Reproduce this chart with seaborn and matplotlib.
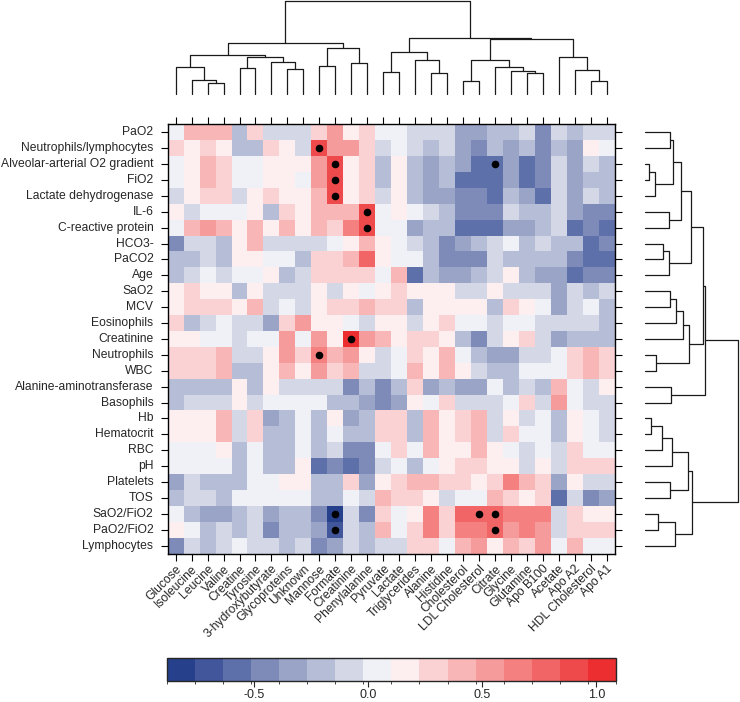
import matplotlib
matplotlib.use("Agg")
import matplotlib.pyplot as plt
import numpy as np
import pandas as pd
import seaborn as sns
from matplotlib.cm import ScalarMappable
from matplotlib.colors import BoundaryNorm, ListedColormap

# clinical variables (rows) and metabolites (columns), in dendrogram order
row_labels = ["PaO2", "Neutrophils/lymphocytes", "Alveolar-arterial O2 gradient", "FiO2",
              "Lactate dehydrogenase", "IL-6", "C-reactive protein", "HCO3-", "PaCO2", "Age",
              "SaO2", "MCV", "Eosinophils", "Creatinine", "Neutrophils", "WBC",
              "Alanine-aminotransferase", "Basophils", "Hb", "Hematocrit", "RBC", "pH",
              "Platelets", "TOS", "SaO2/FiO2", "PaO2/FiO2", "Lymphocytes"]
col_labels = ["Glucose", "Isoleucine", "Leucine", "Valine", "Creatine", "Tyrosine",
              "3-hydroxybutyrate", "Glycoproteins", "Unknown", "Mannose", "Formate",
              "Creatinine", "Phenylalanine", "Pyruvate", "Lactate", "Triglycerides",
              "Alanine", "Histidine", "Cholesterol", "LDL Cholesterol", "Citrate", "Glycine",
              "Glutamine", "Apo B100", "Acetate", "Apo A2", "HDL Cholesterol", "Apo A1"]

# correlation estimates
corr = [
    [0.04, 0.41, 0.41, 0.41, -0.21, 0.29, -0.08, -0.08, -0.08, 0.29, 0.53, 0.16, 0.29, 0.04, 0.04, -0.08, -0.08, -0.08, -0.33, -0.33, -0.21, -0.21, -0.08, -0.45, -0.08, -0.21, -0.08, -0.08],
    [0.29, 0.16, 0.29, 0.16, -0.21, -0.21, 0.29, 0.16, -0.08, 0.90, 0.53, 0.53, 0.29, -0.08, 0.04, -0.08, -0.21, -0.08, -0.33, -0.45, -0.21, -0.33, -0.21, -0.45, -0.21, -0.33, 0.16, 0.04],
    [0.04, 0.16, 0.41, 0.29, 0.04, 0.04, 0.16, 0.16, 0.16, 0.53, 0.90, 0.16, 0.29, -0.21, 0.16, -0.21, -0.33, -0.21, -0.33, -0.58, -0.58, -0.33, -0.58, -0.45, -0.08, -0.33, -0.08, -0.21],
    [0.04, 0.16, 0.41, 0.29, 0.04, 0.04, 0.16, 0.16, 0.04, 0.53, 0.90, 0.16, 0.29, -0.21, 0.16, -0.21, -0.33, -0.21, -0.58, -0.58, -0.58, -0.33, -0.58, -0.45, -0.08, -0.33, -0.21, -0.21],
    [-0.08, 0.16, 0.29, 0.29, -0.08, 0.16, 0.29, 0.16, 0.16, 0.41, 0.90, 0.16, 0.29, -0.08, 0.16, -0.21, -0.33, -0.33, -0.45, -0.45, -0.58, -0.21, -0.33, -0.58, -0.08, -0.33, -0.08, -0.21],
    [0.16, -0.08, 0.04, 0.04, 0.04, 0.16, -0.21, 0.29, 0.16, 0.41, 0.41, 0.41, 0.90, 0.04, 0.16, 0.04, -0.08, -0.21, -0.45, -0.45, -0.45, -0.08, -0.21, -0.21, -0.08, -0.33, -0.45, -0.45],
    [0.04, 0.41, 0.53, 0.41, 0.16, 0.41, 0.16, 0.41, 0.16, 0.41, 0.29, 0.66, 0.90, 0.04, 0.04, -0.33, -0.21, -0.21, -0.58, -0.58, -0.58, -0.33, -0.33, -0.21, -0.08, -0.58, -0.45, -0.58],
    [-0.45, -0.08, -0.08, -0.21, 0.16, 0.41, -0.08, -0.08, -0.08, -0.08, 0.04, 0.16, 0.41, 0.16, 0.04, -0.08, -0.21, -0.45, -0.33, -0.21, -0.08, 0.04, -0.21, -0.08, -0.21, -0.21, -0.58, -0.45],
    [-0.21, -0.21, -0.08, -0.21, 0.16, 0.16, 0.04, 0.04, -0.21, 0.29, 0.29, 0.41, 0.78, 0.16, 0.04, 0.04, -0.21, -0.45, -0.45, -0.45, -0.08, -0.21, -0.21, -0.21, -0.21, -0.45, -0.58, -0.58],
    [-0.21, -0.08, 0.04, -0.08, 0.04, 0.04, 0.16, -0.21, -0.08, 0.29, 0.29, 0.29, 0.29, 0.04, 0.41, -0.58, -0.21, -0.33, -0.33, -0.21, -0.08, 0.16, -0.21, -0.33, -0.33, -0.58, -0.45, -0.45],
    [0.16, 0.29, 0.16, 0.16, -0.21, 0.16, -0.08, -0.08, -0.08, 0.16, -0.08, 0.16, 0.04, 0.16, 0.29, 0.16, 0.16, 0.16, -0.08, -0.08, 0.16, -0.08, -0.08, -0.08, -0.33, -0.08, -0.21, -0.08],
    [0.16, 0.29, 0.29, 0.29, 0.16, 0.41, -0.08, 0.04, -0.08, 0.16, 0.29, 0.29, 0.41, 0.29, 0.29, -0.21, 0.16, 0.16, 0.16, 0.16, -0.21, 0.29, 0.16, 0.04, -0.33, -0.08, 0.04, -0.21],
    [0.29, -0.21, -0.08, 0.04, -0.08, -0.08, -0.33, 0.29, 0.53, 0.16, 0.16, 0.04, -0.08, 0.16, 0.16, -0.08, 0.16, 0.29, 0.04, 0.04, -0.08, 0.04, 0.04, -0.08, -0.08, -0.08, -0.08, -0.21],
    [0.16, 0.16, 0.04, 0.04, -0.08, 0.04, 0.04, 0.53, 0.04, 0.53, 0.16, 1.00, 0.53, 0.41, 0.16, 0.29, 0.29, 0.16, -0.21, -0.45, -0.08, 0.16, 0.29, -0.08, -0.33, -0.21, -0.21, -0.21],
    [0.29, 0.29, 0.29, 0.41, -0.08, -0.08, 0.16, 0.53, 0.29, 0.66, 0.41, 0.53, 0.16, -0.08, 0.04, 0.29, 0.16, 0.41, 0.04, -0.21, -0.33, -0.33, -0.08, -0.08, 0.04, 0.29, 0.41, 0.29],
    [0.29, 0.29, 0.29, 0.41, -0.21, -0.21, 0.16, 0.41, 0.16, 0.53, 0.29, 0.41, -0.08, -0.08, 0.04, 0.41, 0.16, 0.41, 0.16, -0.08, -0.21, -0.21, 0.04, 0.04, 0.04, 0.29, 0.41, 0.29],
    [-0.21, -0.21, -0.21, -0.21, 0.16, -0.21, 0.16, -0.08, -0.08, -0.08, -0.08, -0.45, -0.21, -0.45, -0.21, 0.29, -0.33, -0.21, -0.33, -0.33, 0.04, -0.21, -0.08, -0.21, 0.41, 0.04, -0.08, 0.16],
    [-0.21, -0.08, -0.08, -0.08, 0.16, -0.08, 0.04, 0.04, 0.04, 0.04, -0.21, -0.21, -0.33, -0.45, -0.33, 0.16, 0.04, 0.29, -0.08, -0.08, -0.08, 0.04, 0.29, -0.08, 0.53, 0.04, -0.08, -0.08],
    [0.16, 0.16, 0.16, 0.41, -0.08, 0.29, -0.33, -0.21, 0.04, -0.21, 0.16, -0.33, -0.21, 0.29, 0.29, -0.21, 0.41, 0.16, 0.29, 0.41, -0.08, 0.16, -0.08, 0.04, -0.21, 0.16, 0.04, -0.08],
    [0.16, 0.16, 0.16, 0.41, -0.08, 0.29, -0.21, -0.21, 0.04, -0.21, 0.04, -0.21, -0.21, 0.29, 0.29, -0.21, 0.41, 0.16, 0.29, 0.41, -0.08, 0.29, 0.04, 0.04, -0.21, 0.16, 0.04, -0.08],
    [0.04, 0.04, 0.04, 0.16, -0.21, 0.04, -0.21, -0.21, 0.04, -0.21, -0.08, -0.45, -0.45, 0.04, 0.29, 0.04, 0.41, 0.16, 0.16, 0.41, 0.16, 0.04, -0.08, 0.04, -0.08, 0.29, 0.04, 0.04],
    [0.04, 0.04, 0.04, 0.04, -0.21, 0.04, -0.21, -0.21, 0.16, -0.58, -0.45, -0.58, -0.45, -0.08, 0.04, -0.21, 0.04, 0.16, 0.29, 0.29, 0.16, 0.16, -0.08, 0.16, -0.08, 0.29, 0.29, 0.29],
    [-0.33, -0.08, -0.21, -0.21, -0.21, 0.04, 0.04, 0.16, 0.16, -0.21, -0.21, 0.29, -0.33, 0.16, 0.29, 0.41, 0.41, 0.29, 0.29, 0.16, 0.29, 0.66, 0.41, 0.29, -0.33, 0.16, -0.08, -0.08],
    [-0.21, -0.08, -0.08, -0.21, 0.04, 0.04, 0.04, 0.04, 0.04, -0.21, -0.21, 0.04, -0.08, 0.41, 0.29, 0.29, 0.16, -0.08, 0.04, 0.04, 0.41, 0.29, 0.16, 0.29, -0.58, -0.08, -0.45, -0.33],
    [0.04, -0.21, -0.33, -0.33, -0.21, -0.08, -0.33, -0.21, -0.21, -0.45, -0.82, -0.08, -0.45, 0.29, 0.04, 0.16, 0.66, 0.29, 0.78, 0.78, 0.78, 0.66, 0.66, 0.66, -0.08, 0.29, 0.16, 0.16],
    [0.16, 0.04, -0.21, -0.08, -0.21, -0.08, -0.45, -0.21, -0.21, -0.33, -0.70, -0.08, -0.21, 0.41, 0.04, 0.29, 0.66, 0.29, 0.66, 0.66, 0.78, 0.53, 0.66, 0.53, -0.08, 0.29, 0.29, 0.29],
    [-0.45, -0.08, -0.21, -0.08, 0.04, -0.08, -0.08, -0.21, -0.08, -0.45, -0.33, -0.08, -0.21, -0.08, -0.08, 0.29, 0.29, 0.04, 0.41, 0.53, 0.16, 0.41, 0.29, 0.53, 0.04, 0.41, 0.04, 0.04],
]

# significant cells (row index, column index)
sig_rows = [1, 2, 3, 4, 5, 6, 2, 13, 14, 24, 25, 24, 24, 25]
sig_cols = [9, 10, 10, 10, 12, 12, 20, 11, 9, 10, 10, 19, 20, 20]

# dendrogram merges: (left node, right node, height); nodes >= n are earlier merges
col_merges = [
    (2, 3, 35), (1, 28, 43), (0, 29, 83), (4, 5, 78), (7, 8, 75), (6, 32, 96),
    (31, 33, 113), (30, 34, 118), (9, 10, 85), (11, 12, 93), (36, 37, 140), (35, 38, 155),
    (13, 14, 68), (16, 17, 63), (15, 41, 103), (40, 42, 128), (18, 19, 41), (22, 23, 63),
    (21, 45, 70), (20, 46, 83), (44, 47, 103), (26, 27, 39), (25, 49, 73), (24, 50, 111),
    (48, 51, 165), (43, 52, 168), (39, 53, 280),
]
row_merges = [
    (0, 1, 75), (2, 3, 12), (28, 4, 30), (27, 29, 85), (5, 6, 73), (30, 31, 108),
    (7, 8, 55), (33, 9, 73), (32, 34, 140), (10, 11, 75), (36, 12, 92), (37, 13, 115),
    (14, 15, 32), (38, 39, 132), (35, 40, 175), (16, 17, 78), (41, 42, 180), (18, 19, 18),
    (44, 20, 50), (45, 21, 82), (22, 23, 75), (46, 47, 130), (24, 25, 40), (49, 26, 90),
    (48, 50, 143), (43, 51, 280),
]

palette = ["#27408b", "#41569b", "#5e70a9", "#7e8ab8", "#9aa4c7", "#b6bdd6", "#d4d8e6",
           "#eff1f6", "#fdeef0", "#fbd2d3", "#f8b6b7", "#f69b9b", "#f48080", "#f16566",
           "#ef4a4b", "#ec2e30"]
breaks = np.linspace(-0.884, 1.086, 17)


def draw_dendrogram(ax, merges, n, vertical):
    pos = {i: i + 0.5 for i in range(n)}
    hgt = {i: 0.0 for i in range(n)}
    for k, (a, b, h) in enumerate(merges):
        xs = [pos[a], pos[a], pos[b], pos[b]]
        ys = [hgt[a], h, h, hgt[b]]
        if vertical:
            ax.plot(xs, ys, color="#1a1a1a", lw=0.9, clip_on=False)
        else:
            ax.plot(ys, xs, color="#1a1a1a", lw=0.9, clip_on=False)
        pos[n + k] = (pos[a] + pos[b]) / 2
        hgt[n + k] = h


sns.set_style("ticks")
plt.rcParams["font.family"] = ["Liberation Sans", "DejaVu Sans"]
plt.rcParams["axes.unicode_minus"] = False

cmap = ListedColormap(palette)
norm = BoundaryNorm(breaks, cmap.N)

fig = plt.figure(figsize=(7.4, 7.02), dpi=100)

# heatmap
ax = fig.add_axes([0.2266, 0.2115, 0.604, 0.6114])
df = pd.DataFrame(corr, index=row_labels, columns=col_labels)
sns.heatmap(df, ax=ax, cmap=cmap, norm=norm, cbar=False,
            xticklabels=True, yticklabels=True)
ax.scatter(np.array(sig_cols) + 0.5, np.array(sig_rows) + 0.5, s=20, c="black", zorder=3)
for s in ax.spines.values():
    s.set_visible(True)
    s.set_linewidth(1.0)
    s.set_color("black")
ax.tick_params(axis="both", direction="out", length=4.8, width=0.8, color="black",
               labelsize=8.7, left=True, bottom=True, top=True, right=True,
               labeltop=False, labelright=False)
ax.tick_params(axis="x", pad=2)
ax.tick_params(axis="y", pad=5.5)
plt.setp(ax.get_xticklabels(), rotation=45, ha="right", rotation_mode="anchor")
plt.setp(ax.get_yticklabels(), rotation=0)
ax.set_xlabel("")
ax.set_ylabel("")

# column dendrogram
ax_top = fig.add_axes([0.2266, 0.8657, 0.604, 0.1329])
draw_dendrogram(ax_top, col_merges, len(col_labels), vertical=True)
ax_top.set_xlim(0, len(col_labels))
ax_top.set_ylim(0, 280)
ax_top.axis("off")

# row dendrogram
ax_right = fig.add_axes([0.8716, 0.2115, 0.1257, 0.6114])
draw_dendrogram(ax_right, row_merges, len(row_labels), vertical=False)
ax_right.set_xlim(0, 280)
ax_right.set_ylim(len(row_labels), 0)
ax_right.axis("off")

# colour key
cax = fig.add_axes([0.2253, 0.0303, 0.6072, 0.0319])
cb = fig.colorbar(ScalarMappable(norm=norm, cmap=cmap), cax=cax, orientation="horizontal",
                  ticks=[-0.5, 0.0, 0.5, 1.0], format="%.1f")
cb.outline.set_linewidth(1.0)
cax.tick_params(length=4.3, width=0.8, labelsize=9, pad=2)

fig.savefig("out.png", dpi=100)
plt.close(fig)
